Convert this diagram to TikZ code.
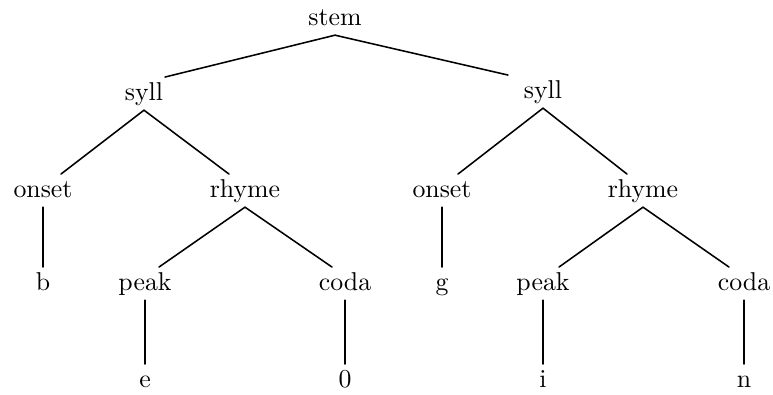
\documentclass[tikz,border=0pt]{standalone}
\usetikzlibrary{positioning}
\begin{document}
\begin{tikzpicture}[
  x=0.3876pt, y=-0.3876pt,
  lab/.style={anchor=base, text height=6.9pt, text depth=1.94pt,
              inner xsep=1pt, inner ysep=1.8pt, font=\fontsize{10}{12}\selectfont},
  edge/.style={line width=0.6pt, line cap=round}
]
\useasboundingbox (0,0) rectangle (773,394);

% nodes, placed by baseline
\node[lab] (stem)   at (335,25)  {stem};
\node[lab] (sylL)   at (144,100) {syll};
\node[lab] (sylR)   at (543,98)  {syll};
\node[lab] (onsL)   at (43,197)  {onset};
\node[lab] (rhyL)   at (245,197) {rhyme};
\node[lab] (onsR)   at (442,197) {onset};
\node[lab] (rhyR)   at (643,197) {rhyme};
\node[lab] (b)      at (43,290)  {b};
\node[lab] (peakL)  at (145,290) {peak};
\node[lab] (codaL)  at (345,290) {coda};
\node[lab] (g)      at (442,290) {g};
\node[lab] (peakR)  at (543,290) {peak};
\node[lab] (codaR)  at (744,290) {coda};
\node[lab] (e)      at (145,387) {e};
\node[lab] (zero)   at (345,387) {0};
\node[lab] (i)      at (543,387) {i};
\node[lab] (n)      at (744,387) {n};

% branches
\draw[edge] (stem.south) -- ([shift={(21,0)}]sylL.north);
\draw[edge] (stem.south) -- ([shift={(-35,0)}]sylR.north);

\draw[edge] (sylL.south) -- ([shift={(18,0)}]onsL.north);
\draw[edge] (sylL.south) -- ([shift={(-16,0)}]rhyL.north);
\draw[edge] (sylR.south) -- ([shift={(16,0)}]onsR.north);
\draw[edge] (sylR.south) -- ([shift={(-16,0)}]rhyR.north);

\draw[edge] (onsL.south) -- (b.north);
\draw[edge] (rhyL.south) -- ([shift={(14,0)}]peakL.north);
\draw[edge] (rhyL.south) -- ([shift={(-13,0)}]codaL.north);
\draw[edge] (onsR.south) -- (g.north);
\draw[edge] (rhyR.south) -- ([shift={(16,0)}]peakR.north);
\draw[edge] (rhyR.south) -- ([shift={(-15,0)}]codaR.north);

\draw[edge] (peakL.south) -- (e.north);
\draw[edge] (codaL.south) -- (zero.north);
\draw[edge] (peakR.south) -- (i.north);
\draw[edge] (codaR.south) -- (n.north);
\end{tikzpicture}
\end{document}
